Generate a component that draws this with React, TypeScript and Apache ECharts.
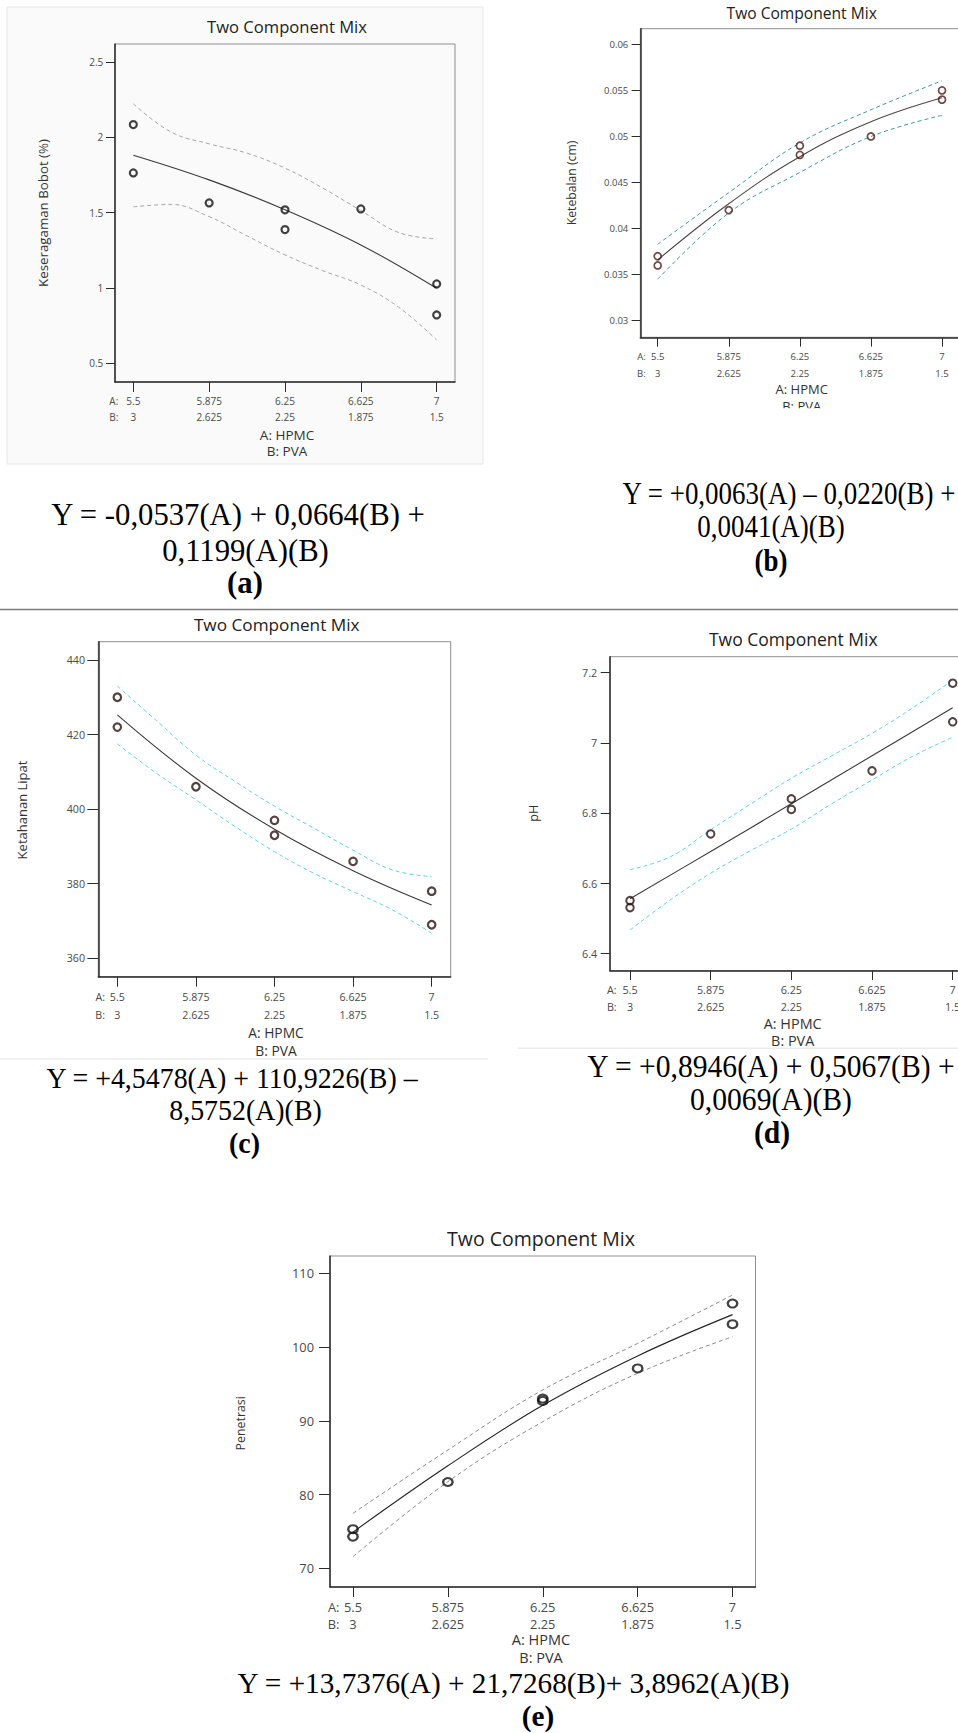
import React, { useEffect, useRef } from "react";
import * as echarts from "echarts";

// ---------- shared design ----------
const A_TICKS = [5.5, 5.875, 6.25, 6.625, 7]; // A: HPMC
const B_TICKS = [3, 2.625, 2.25, 1.875, 1.5]; // B: PVA
const FINE_X = [5.5, 5.6875, 5.875, 6.0625, 6.25, 6.4375, 6.625, 6.8125, 7];
const RUN_A = [5.5, 5.5, 5.875, 6.25, 6.25, 6.625, 7, 7];

// ---------- (a) Keseragaman Bobot ----------
const A_Y_TICKS = [0.5, 1, 1.5, 2, 2.5];
const A_OBS = [2.085, 1.764, 1.565, 1.519, 1.388, 1.525, 1.027, 0.821];
const A_FIT = [1.882, 1.718, 1.52, 1.286, 0.998];
const A_UP = [2.223, 2.035, 1.957, 1.895, 1.796, 1.663, 1.514, 1.368, 1.326];
const A_LO = [1.539, 1.555, 1.474, 1.346, 1.22, 1.115, 1.02, 0.872, 0.655];

// ---------- (b) Ketebalan ----------
const B_Y_TICKS = [0.03, 0.035, 0.04, 0.045, 0.05, 0.055, 0.06];
const B_OBS = [0.037, 0.036, 0.042, 0.049, 0.048, 0.05, 0.055, 0.054];
const B_FIT = [0.0366, 0.0427, 0.0478, 0.0516, 0.0542];
const B_UP = [0.0383, 0.0439, 0.0493, 0.0529, 0.05605];
const B_LO = [0.0345, 0.0417, 0.0461, 0.05, 0.0523];

// ---------- (c) Ketahanan Lipat ----------
const C_Y_TICKS = [360, 380, 400, 420, 440];
const C_OBS = [430, 422, 406, 397, 393, 386, 378, 369];
const C_FIT = [425.3, 408.3, 394.6, 383.5, 374.3];
const C_UP = [433.0, 423.7, 414.5, 407.4, 400.8, 394.9, 389.0, 383.7, 381.9];
const C_LO = [417.5, 409.6, 402.5, 395.3, 388.6, 382.8, 377.9, 373.0, 366.7];

// ---------- (d) pH ----------
const D_Y_TICKS = [6.4, 6.6, 6.8, 7, 7.2];
const D_OBS = [6.55, 6.53, 6.74, 6.84, 6.81, 6.92, 7.17, 7.06];
const D_FIT = [6.555, 6.69, 6.826, 6.963, 7.1];
const D_UP = [6.638, 6.675, 6.752, 6.826, 6.899, 6.963, 7.027, 7.099, 7.179];
const D_LO = [6.466, 6.552, 6.628, 6.693, 6.754, 6.826, 6.894, 6.961, 7.016];

// ---------- (e) Penetrasi ----------
const E_Y_TICKS = [70, 80, 90, 100, 110];
const E_OBS = [75.3, 74.3, 81.7, 93.0, 92.7, 97.1, 105.9, 103.1];
const E_FIT = [74.9, 83.9, 92.1, 98.8, 104.4];
const E_UP = [77.45, 86.04, 94.18, 100.5, 107.06];
const E_LO = [71.57, 81.74, 89.88, 96.44, 101.4];

const TITLE = "Two Component Mix";
const X_NAME = "A: HPMC\nB: PVA";

const SANS = "'Open Sans', 'Noto Sans', 'DejaVu Sans', sans-serif";
const SERIF = "'Liberation Serif', 'Times New Roman', serif";

const CHART_W = 990; // wider than the page: panels (b) and (d) run past the right edge
const CHART_H = 1733;

const PANELS = [
  {
    grid: { left: 115, top: 44, width: 340, height: 338 }, xPad: 0.0906, yRange: [0.376, 2.62],
    yTicks: A_Y_TICKS, obs: A_OBS, fit: A_FIT, fitX: A_TICKS, up: A_UP, upX: FINE_X, lo: A_LO, loX: FINE_X,
    title: { x: 287, y: 26, size: 16.6 },
    yName: { text: "Keseragaman Bobot (%)", x: 42.7, y: 213, size: 13.3 },
    xName: { x: 287, y1: 434.5, y2: 451, size: 13.5 },
    tickFont: 10, lh: 16, xMargin: 11, yMargin: 11.7, yTickLen: 9, xTickLen: 10, prefixGap: 15,
    mark: { size: 7, border: 2.2, color: "#111111" }, fitColor: "#3a3a3a", ciColor: "#a6a6a6",
  },
  {
    grid: { left: 640.3, top: 28.7, width: 319.1, height: 308.6 }, xPad: 0.0917, yRange: [0.0282, 0.0617],
    yTicks: B_Y_TICKS, obs: B_OBS, fit: B_FIT, fitX: A_TICKS, up: B_UP, upX: A_TICKS, lo: B_LO, loX: A_TICKS,
    title: { x: 801.7, y: 12.5, size: 15.6 },
    yName: { text: "Ketebalan (cm)", x: 571.7, y: 183, size: 12.2 },
    xName: { x: 801.7, y1: 389, y2: 406, size: 13 },
    tickFont: 9.5, lh: 17, xMargin: 10.2, yMargin: 12, yTickLen: 8.7, xTickLen: 9.3, prefixGap: 12,
    mark: { size: 7, border: 1.7, color: "#4a1c1c" }, fitColor: "#4d4545", ciColor: "#3f9a9a",
  },
  {
    grid: { left: 98.3, top: 641.7, width: 352.4, height: 335 }, xPad: 0.0908, yRange: [355.07, 444.9],
    yTicks: C_Y_TICKS, obs: C_OBS, fit: C_FIT, fitX: A_TICKS, up: C_UP, upX: FINE_X, lo: C_LO, loX: FINE_X,
    title: { x: 276.7, y: 624, size: 17.2 },
    yName: { text: "Ketahanan Lipat", x: 21.7, y: 810, size: 13 },
    xName: { x: 276, y1: 1032.7, y2: 1050.7, size: 13.8 },
    tickFont: 10.7, lh: 18.3, xMargin: 10.85, yMargin: 13.3, yTickLen: 11, xTickLen: 10, prefixGap: 12.3,
    mark: { size: 7.5, border: 2.2, color: "#2e1212" }, fitColor: "#3a3a3a", ciColor: "#5cd4e2",
  },
  {
    grid: { left: 610, top: 656.7, width: 362.7, height: 314 }, xPad: 0.093, yRange: [6.35, 7.2456],
    yTicks: D_Y_TICKS, obs: D_OBS, fit: D_FIT, fitX: A_TICKS, up: D_UP, upX: FINE_X, lo: D_LO, loX: FINE_X,
    title: { x: 793.3, y: 639.3, size: 17.5 },
    yName: { text: "pH", x: 533.3, y: 813.3, size: 12.5 },
    xName: { x: 792.7, y1: 1023.3, y2: 1040.7, size: 14.4 },
    tickFont: 10.8, lh: 17.4, xMargin: 9.9, yMargin: 12.7, yTickLen: 9.3, xTickLen: 9.3, prefixGap: 13.3,
    mark: { size: 7.5, border: 2, color: "#2e1212" }, fitColor: "#3a3a3a", ciColor: "#5cd4e2",
  },
  {
    grid: { left: 330, top: 1256, width: 425.5, height: 331 }, xPad: 0.0908, yRange: [67.46, 112.35],
    yTicks: E_Y_TICKS, obs: E_OBS, fit: E_FIT, fitX: A_TICKS, up: E_UP, upX: A_TICKS, lo: E_LO, loX: A_TICKS,
    title: { x: 541, y: 1238.5, size: 19.5 },
    yName: { text: "Penetrasi", x: 240, y: 1423.3, size: 12.4 },
    xName: { x: 541, y1: 1639.5, y2: 1657, size: 14.5 },
    tickFont: 12.8, lh: 17.5, xMargin: 11, yMargin: 16, yTickLen: 11, xTickLen: 10, prefixGap: 13.5,
    mark: { size: [9.5, 8], border: 2.2, color: "#111111" }, fitColor: "#222222", ciColor: "#8a8a8a",
  },
];

const EQUATIONS = [
  { size: 31, scaleX: 0.99, lines: [
    { x: 238, y: 515, text: "Y = -0,0537(A) + 0,0664(B) +" },
    { x: 245.5, y: 550.5, text: "0,1199(A)(B)" },
    { x: 245, y: 583, text: "(a)", bold: true } ] },
  { size: 31, scaleX: 0.87, lines: [
    { x: 789, y: 493, text: "Y = +0,0063(A) \u2013 0,0220(B) +" },
    { x: 771, y: 526.5, text: "0,0041(A)(B)" },
    { x: 771, y: 560, text: "(b)", bold: true } ] },
  { size: 30, scaleX: 0.93, lines: [
    { x: 232, y: 1078, text: "Y = +4,5478(A) + 110,9226(B) \u2013" },
    { x: 245.5, y: 1110, text: "8,5752(A)(B)" },
    { x: 244.5, y: 1143, text: "(c)", bold: true } ] },
  { size: 31, scaleX: 0.955, lines: [
    { x: 771, y: 1066.7, text: "Y = +0,8946(A) + 0,5067(B) +" },
    { x: 771, y: 1100, text: "0,0069(A)(B)" },
    { x: 772, y: 1133, text: "(d)", bold: true } ] },
  { size: 30, scaleX: 0.975, lines: [
    { x: 513.5, y: 1682.5, text: "Y = +13,7376(A) + 21,7268(B)+ 3,8962(A)(B)" },
    { x: 538, y: 1716, text: "(e)", bold: true } ] },
];

function textEl(x: number, y: number, text: string, size: number, opts: any = {}) {
  return {
    type: "text",
    x, y,
    rotation: opts.rotation || 0,
    scaleX: opts.scaleX || 1,
    z: opts.z || 10,
    silent: true,
    style: {
      text,
      x: 0, y: 0,
      fill: opts.color || "#222",
      fontSize: size,
      fontFamily: opts.family || SANS,
      fontWeight: opts.bold ? "bold" : "normal",
      lineHeight: opts.lineHeight,
      align: opts.align || "center",
      verticalAlign: "middle",
      textAlign: opts.align || "center",
      textVerticalAlign: "middle",
    },
  };
}

function buildOption() {
  const grids: any[] = [];
  const xAxes: any[] = [];
  const yAxes: any[] = [];
  const series: any[] = [];
  const graphics: any[] = [];

  // panel (a) image background
  graphics.push({ type: "rect", z: -100, silent: true, shape: { x: 7, y: 7, width: 476, height: 457 },
    style: { fill: "#fafafa", stroke: "#e6e6e6", lineWidth: 1 } });
  // separators / image edges
  graphics.push({ type: "line", silent: true, shape: { x1: 0, y1: 609.5, x2: CHART_W, y2: 609.5 },
    style: { stroke: "#7d7d7d", lineWidth: 1.5 } });
  graphics.push({ type: "line", silent: true, shape: { x1: 0, y1: 1059, x2: 488, y2: 1059 },
    style: { stroke: "#ececec", lineWidth: 1.5 } });
  graphics.push({ type: "line", silent: true, shape: { x1: 518, y1: 1048.3, x2: CHART_W, y2: 1048.3 },
    style: { stroke: "#ececec", lineWidth: 1.5 } });

  PANELS.forEach((p, i) => {
    const xmin = A_TICKS[0] - p.xPad;
    const xmax = A_TICKS[A_TICKS.length - 1] + p.xPad;
    grids.push({ ...p.grid, show: true, borderColor: "#8f8f8f", borderWidth: 1, backgroundColor: "rgba(0,0,0,0)" });
    xAxes.push({
      type: "value", gridIndex: i, min: xmin, max: xmax, position: "bottom",
      axisLine: { show: true, onZero: false, lineStyle: { color: "#2b2b2b", width: 1.5 } },
      axisTick: { show: true, customValues: A_TICKS, length: p.xTickLen, lineStyle: { color: "#2b2b2b", width: 1 } },
      axisLabel: {
        show: true, customValues: A_TICKS,
        formatter: (v: number) => {
          const k = A_TICKS.findIndex((t) => Math.abs(t - v) < 1e-6);
          return k < 0 ? "" : `${A_TICKS[k]}\n${B_TICKS[k]}`;
        },
        fontSize: p.tickFont, lineHeight: p.lh, margin: p.xMargin, color: "#4a4a4a", fontFamily: SANS,
      },
      splitLine: { show: false },
    });
    yAxes.push({
      type: "value", gridIndex: i, min: p.yRange[0], max: p.yRange[1], position: "left",
      axisLine: { show: true, onZero: false, lineStyle: { color: "#2b2b2b", width: 1.5 } },
      axisTick: { show: true, customValues: p.yTicks, length: p.yTickLen, lineStyle: { color: "#2b2b2b", width: 1 } },
      axisLabel: { show: true, customValues: p.yTicks, fontSize: p.tickFont, margin: p.yMargin, color: "#4a4a4a", fontFamily: SANS },
      splitLine: { show: false },
    });

    const dash = { color: p.ciColor, width: 1, type: [4, 3] };
    series.push({ type: "line", xAxisIndex: i, yAxisIndex: i, silent: true, smooth: 0.4, symbol: "none", z: 2,
      data: p.upX.map((x, j) => [x, p.up[j]]), lineStyle: dash });
    series.push({ type: "line", xAxisIndex: i, yAxisIndex: i, silent: true, smooth: 0.4, symbol: "none", z: 2,
      data: p.loX.map((x, j) => [x, p.lo[j]]), lineStyle: dash });
    series.push({ type: "line", xAxisIndex: i, yAxisIndex: i, silent: true, smooth: 0.4, symbol: "none", z: 3,
      data: p.fitX.map((x, j) => [x, p.fit[j]]), lineStyle: { color: p.fitColor, width: 1.1 } });
    series.push({ type: "scatter", xAxisIndex: i, yAxisIndex: i, silent: true, z: 5,
      symbol: "circle", symbolSize: p.mark.size,
      itemStyle: { color: "rgba(255,255,255,0)", borderColor: p.mark.color, borderWidth: p.mark.border },
      data: RUN_A.map((x, j) => [x, p.obs[j]]) });

    // texts
    graphics.push(textEl(p.title.x, p.title.y, TITLE, p.title.size, { color: "#222" }));
    graphics.push(textEl(p.yName.x, p.yName.y, p.yName.text, p.yName.size, { color: "#333", rotation: Math.PI / 2 }));
    graphics.push(textEl(p.xName.x, (p.xName.y1 + p.xName.y2) / 2, X_NAME, p.xName.size,
      { color: "#333", lineHeight: p.xName.y2 - p.xName.y1 }));

    const tickX = p.grid.left + ((A_TICKS[0] - xmin) / (xmax - xmin)) * p.grid.width;
    const axisY = p.grid.top + p.grid.height;
    const row1 = axisY + p.xMargin + p.lh / 2;
    graphics.push(textEl(tickX - p.prefixGap, row1 + p.lh / 2, "A:\nB:", p.tickFont,
      { color: "#4a4a4a", align: "right", lineHeight: p.lh }));
  });

  // clip the lower half of "B: PVA" in panel (b), as in the cropped source image
  graphics.push({ type: "rect", z: 50, silent: true, shape: { x: 760, y: 408.2, width: 85, height: 14 },
    style: { fill: "#ffffff" } });

  EQUATIONS.forEach((eq) => {
    eq.lines.forEach((ln: any) => {
      graphics.push(textEl(ln.x, ln.y, ln.text, eq.size,
        { family: SERIF, color: "#000", bold: !!ln.bold, scaleX: eq.scaleX, lineHeight: eq.size }));
    });
  });

  return {
    animation: false,
    backgroundColor: "#ffffff",
    grid: grids,
    xAxis: xAxes,
    yAxis: yAxes,
    series,
    graphic: { elements: graphics },
  };
}

export default function App() {
  const ref = useRef<HTMLDivElement>(null);
  useEffect(() => {
    if (!ref.current) return;
    const chart = echarts.init(ref.current, null, { renderer: "svg", width: CHART_W, height: CHART_H });
    chart.setOption(buildOption() as any);
    return () => chart.dispose();
  }, []);
  return (
    <div style={{ position: "absolute", left: 0, top: 0, width: 958, height: 1733, overflow: "hidden", background: "#ffffff" }}>
      <div ref={ref} style={{ width: CHART_W, height: CHART_H }} />
    </div>
  );
}
